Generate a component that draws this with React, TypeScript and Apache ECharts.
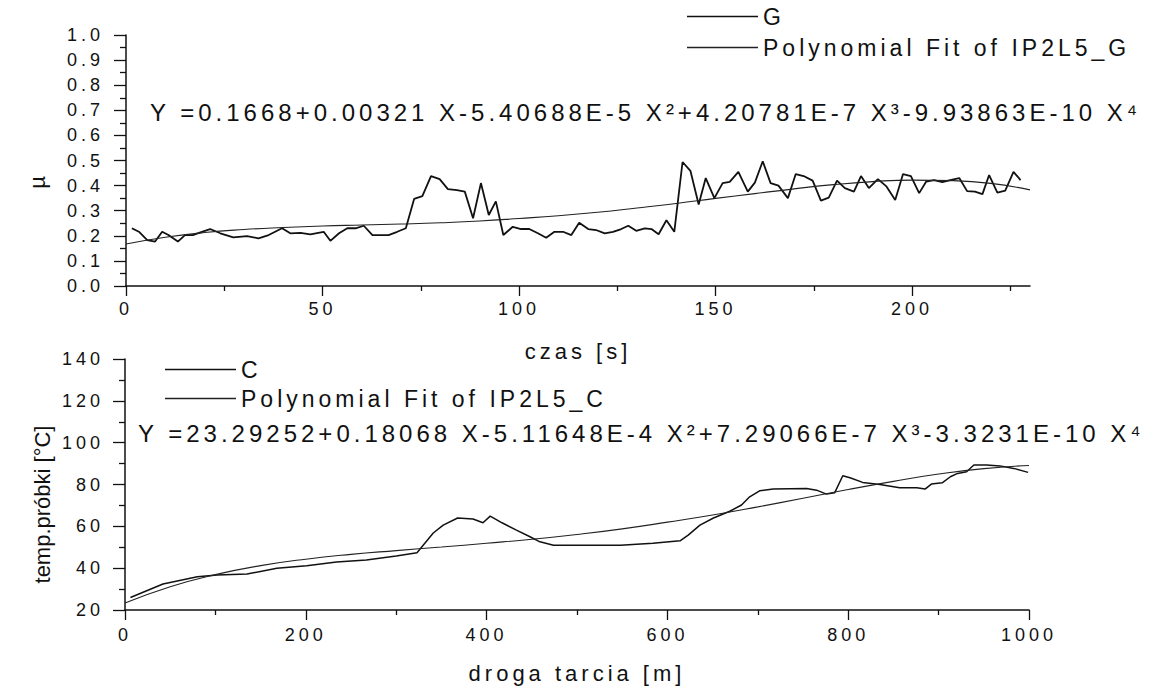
import React, { useEffect, useRef } from "react";
import * as echarts from "echarts";

// ---- top chart: friction coefficient G vs time ----
const gTime = [
  1.5, 3.4, 5.4, 7.4, 9.2, 10.8, 13.2, 15.0, 17.0, 19.3,
  21.4, 24.0, 27.3, 30.8, 33.7, 36.3, 39.7, 41.8, 44.4, 46.9,
  50.3, 52.0, 54.2, 56.3, 58.4, 60.5, 62.7, 66.8, 69.0, 71.2,
  73.3, 75.4, 77.6, 79.8, 81.9, 84.2, 86.2, 88.3, 90.3, 92.3,
  94.1, 96.0, 98.4, 100.5, 102.6, 104.8, 106.9, 109.0, 111.2, 113.3,
  115.3, 117.6, 119.6, 121.8, 123.9, 126.0, 127.8, 129.8, 132.0, 133.7,
  135.5, 137.5, 139.5, 141.6, 143.6, 145.7, 147.5, 149.7, 151.8, 153.6,
  155.8, 158.2, 160.0, 162.0, 164.0, 166.0, 168.4, 170.4, 172.4, 174.7,
  176.8, 178.8, 180.9, 182.9, 185.2, 187.0, 189.0, 191.3, 193.4, 195.7,
  197.7, 199.7, 201.8, 203.6, 205.6, 207.7, 209.7, 212.0, 214.0, 216.0,
  217.9, 219.6, 221.7, 223.7, 225.8, 227.6,
];
const gMu = [
  0.230, 0.215, 0.183, 0.177, 0.216, 0.203, 0.177, 0.203, 0.203, 0.216,
  0.227, 0.210, 0.194, 0.199, 0.190, 0.203, 0.230, 0.210, 0.212, 0.206,
  0.216, 0.180, 0.210, 0.230, 0.230, 0.240, 0.203, 0.203, 0.216, 0.230,
  0.347, 0.358, 0.438, 0.426, 0.386, 0.382, 0.376, 0.270, 0.410, 0.283,
  0.337, 0.203, 0.236, 0.227, 0.227, 0.210, 0.192, 0.216, 0.216, 0.203,
  0.252, 0.227, 0.223, 0.210, 0.216, 0.227, 0.240, 0.220, 0.230, 0.227,
  0.206, 0.262, 0.216, 0.494, 0.459, 0.325, 0.430, 0.350, 0.410, 0.415,
  0.455, 0.376, 0.412, 0.497, 0.410, 0.400, 0.350, 0.446, 0.438, 0.420,
  0.340, 0.352, 0.420, 0.390, 0.376, 0.438, 0.390, 0.426, 0.398, 0.343,
  0.446, 0.438, 0.370, 0.416, 0.422, 0.414, 0.422, 0.430, 0.378, 0.376,
  0.366, 0.442, 0.372, 0.380, 0.455, 0.422,
];
const gFitTime = [0, 10, 20, 30, 40, 50, 60, 70, 80, 90, 100, 110, 120, 130, 140, 150, 160, 170, 180, 190, 200, 210, 220, 230];
const gFitMu = [0.167, 0.194, 0.213, 0.225, 0.233, 0.239, 0.243, 0.247, 0.252, 0.259, 0.269, 0.280, 0.294, 0.311, 0.329, 0.349, 0.368, 0.387, 0.404, 0.416, 0.422, 0.420, 0.409, 0.383];

// ---- bottom chart: sample temperature vs sliding distance ----
const cDist = [
  6, 42, 80, 102, 135, 168, 201, 234, 267, 300,
  323, 341, 352, 368, 385, 396, 404, 417, 433, 448,
  459, 474, 511, 548, 584, 614, 623, 636, 651, 669,
  682, 691, 702, 717, 754, 765, 776, 785, 794, 802,
  816, 835, 857, 876, 885, 892, 904, 913, 921, 931,
  939, 953, 968, 983, 999,
];
const cTemp = [
  26.0, 32.4, 35.9, 36.7, 37.2, 40.0, 41.2, 42.9, 43.9, 45.8,
  47.4, 56.8, 60.6, 64.0, 63.5, 61.7, 64.9, 61.7, 58.2, 55.0,
  52.6, 51.0, 50.9, 51.0, 51.9, 53.1, 55.8, 60.6, 64.0, 67.2,
  70.2, 74.1, 77.0, 77.8, 78.1, 77.3, 75.4, 76.0, 84.2, 83.2,
  81.0, 80.0, 78.4, 78.4, 77.8, 80.2, 80.8, 83.7, 85.3, 86.1,
  89.3, 89.3, 88.9, 87.7, 85.8,
];
const cFitDist = [0, 50, 100, 150, 200, 250, 300, 350, 400, 450, 500, 550, 600, 650, 700, 750, 800, 850, 900, 950, 1000];
const cFitTemp = [23.3, 31.1, 36.9, 41.2, 44.3, 46.6, 48.4, 50.1, 51.9, 53.8, 56.1, 58.8, 62.0, 65.4, 69.3, 73.4, 77.6, 81.5, 85.0, 87.6, 89.1];

const topXMajor = [0, 50, 100, 150, 200];
const topXMinor = [25, 75, 125, 175, 225];

const eqG = "Y =0.1668+0.00321 X-5.40688E-5 X²+4.20781E-7 X³-9.93863E-10 X⁴";
const eqC = "Y =23.29252+0.18068 X-5.11648E-4 X²+7.29066E-7 X³-3.3231E-10 X⁴";

const SPACED = '"Liberation Sans", sans-serif';
const PLAIN = "Arial, Helvetica, sans-serif";
const INK = "#111";

export default function App() {
  const ref = useRef<HTMLDivElement>(null);
  useEffect(() => {
    if (!ref.current) return;
    const chart = echarts.init(ref.current, undefined, { renderer: "svg" });
    const axisLine = { show: true, onZero: false, lineStyle: { color: INK, width: 1.5 } };
    const tickStyle = { color: INK, width: 1.3 };
    const labelStyle = { color: INK, fontSize: 18, fontFamily: SPACED };
    const nameStyle = { color: INK, fontSize: 22, fontFamily: SPACED };
    const legendText = { color: INK, fontSize: 23, fontFamily: SPACED };
    chart.setOption({
      animation: false,
      backgroundColor: "#fff",
      grid: [
        { left: 126, top: 35, width: 904, height: 251 },
        { left: 125, top: 359, width: 904, height: 251 },
      ],
      xAxis: [
        {
          gridIndex: 0, type: "value", min: 0, max: 230, position: "bottom",
          name: "czas [s]", nameLocation: "middle", nameGap: 54, nameTextStyle: nameStyle,
          axisLine,
          axisTick: { show: true, length: 10, lineStyle: tickStyle, customValues: topXMajor },
          axisLabel: { ...labelStyle, margin: 14, customValues: topXMajor, formatter: (v: number) => String(v) },
          splitLine: { show: false },
        },
        {
          gridIndex: 0, type: "value", min: 0, max: 230, position: "bottom",
          axisLine: { show: false },
          axisTick: { show: true, length: 5, lineStyle: tickStyle, customValues: topXMinor },
          axisLabel: { show: false },
          splitLine: { show: false },
        },
        {
          gridIndex: 1, type: "value", min: 0, max: 1000, interval: 200, position: "bottom",
          name: "droga tarcia [m]", nameLocation: "middle", nameGap: 52, nameTextStyle: nameStyle,
          axisLine,
          axisTick: { show: true, length: 10, lineStyle: tickStyle },
          minorTick: { show: true, splitNumber: 2, length: 5, lineStyle: tickStyle },
          axisLabel: { ...labelStyle, margin: 16, formatter: (v: number) => String(v) },
          splitLine: { show: false },
        },
      ],
      yAxis: [
        {
          gridIndex: 0, type: "value", min: 0, max: 1, interval: 0.1,
          name: "µ", nameLocation: "middle", nameGap: 78, nameRotate: 90,
          nameTextStyle: { color: INK, fontSize: 22, fontFamily: PLAIN, padding: [0, 44, 0, 0] },
          axisLine,
          axisTick: { show: true, length: 12, lineStyle: tickStyle },
          minorTick: { show: true, splitNumber: 2, length: 6, lineStyle: tickStyle },
          axisLabel: { ...labelStyle, margin: 22, formatter: (v: number) => v.toFixed(1) },
          splitLine: { show: false },
        },
        {
          gridIndex: 1, type: "value", min: 20, max: 140, interval: 20,
          name: "temp.próbki [°C]", nameLocation: "middle", nameGap: 72, nameRotate: 90,
          nameTextStyle: { color: INK, fontSize: 22, fontFamily: PLAIN, padding: [0, 40, 0, 0] },
          axisLine,
          axisTick: { show: true, length: 12, lineStyle: tickStyle },
          minorTick: { show: true, splitNumber: 2, length: 6, lineStyle: tickStyle },
          axisLabel: { ...labelStyle, margin: 21, formatter: (v: number) => String(v) },
          splitLine: { show: false },
        },
      ],
      legend: [
        {
          data: [
            { name: "G", icon: "rect", itemStyle: { color: INK } },
            { name: "Polynomial Fit of IP2L5_G", icon: "rect", itemStyle: { color: "#222" } },
          ],
          orient: "vertical", left: 682, top: 0, itemWidth: 71, itemHeight: 1.5, itemGap: 8,
          selectedMode: false, textStyle: legendText,
        },
        {
          data: [
            { name: "C", icon: "rect", itemStyle: { color: INK } },
            { name: "Polynomial Fit of IP2L5_C", icon: "rect", itemStyle: { color: "#222" } },
          ],
          orient: "vertical", left: 160, top: 353, itemWidth: 71, itemHeight: 1.5, itemGap: 6,
          selectedMode: false, textStyle: legendText,
        },
      ],
      graphic: [
        { type: "text", x: 150, y: 112, style: { text: eqG, fill: INK, fontSize: 24, fontFamily: SPACED, align: "left", verticalAlign: "middle" } },
        { type: "text", x: 138, y: 433, style: { text: eqC, fill: INK, fontSize: 24, fontFamily: SPACED, align: "left", verticalAlign: "middle" } },
      ],
      series: [
        {
          name: "G", type: "line", xAxisIndex: 0, yAxisIndex: 0, symbol: "none",
          lineStyle: { color: INK, width: 1.8 }, itemStyle: { color: INK },
          data: gTime.map((t, i) => [t, gMu[i]]),
        },
        {
          name: "Polynomial Fit of IP2L5_G", type: "line", xAxisIndex: 0, yAxisIndex: 0, symbol: "none", smooth: true,
          lineStyle: { color: "#222", width: 1.1 }, itemStyle: { color: "#222" },
          data: gFitTime.map((t, i) => [t, gFitMu[i]]),
        },
        {
          name: "C", type: "line", xAxisIndex: 2, yAxisIndex: 1, symbol: "none",
          lineStyle: { color: INK, width: 1.5 }, itemStyle: { color: INK },
          data: cDist.map((d, i) => [d, cTemp[i]]),
        },
        {
          name: "Polynomial Fit of IP2L5_C", type: "line", xAxisIndex: 2, yAxisIndex: 1, symbol: "none", smooth: true,
          lineStyle: { color: "#222", width: 1.1 }, itemStyle: { color: "#222" },
          data: cFitDist.map((d, i) => [d, cFitTemp[i]]),
        },
      ],
    });
    return () => chart.dispose();
  }, []);
  return (
    <>
      <style>{`text[style*="Liberation"] { letter-spacing: 4px; }`}</style>
      <div
        ref={ref}
        style={{ position: "fixed", left: 0, top: 0, width: 1164, height: 690, background: "#fff" }}
      />
    </>
  );
}
